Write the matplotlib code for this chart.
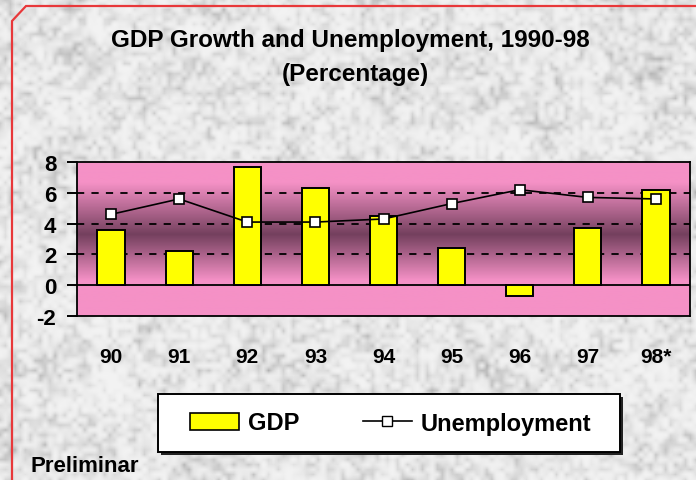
import matplotlib
matplotlib.use("Agg")
import matplotlib.pyplot as plt
import numpy as np
from matplotlib.colors import LinearSegmentedColormap
from matplotlib.patches import Polygon, Patch, Rectangle
from matplotlib.lines import Line2D

# datos
anios = ["90", "91", "92", "93", "94", "95", "96", "97", "98*"]
pib = [3.6, 2.2, 7.7, 6.3, 4.5, 2.4, -0.7, 3.7, 6.2]
desempleo = [4.6, 5.6, 4.1, 4.1, 4.3, 5.3, 6.2, 5.7, 5.6]

FUENTE = ["Liberation Sans", "DejaVu Sans"]
ROSA = "#f591c6"
MALVA = "#74405e"

plt.rcParams["axes.unicode_minus"] = False

fig = plt.figure(figsize=(6.96, 4.81), dpi=100)

# fondo tipo marmol
fondo = fig.add_axes([0, 0, 1, 1], zorder=-10)
rng = np.random.default_rng(7)
h, w = 481, 696
tex = np.zeros((h, w))
for escala, peso in [(5, 1.0), (14, 0.6), (40, 0.35)]:
    g = rng.random((h // escala + 2, w // escala + 2))
    yy = np.linspace(0, g.shape[0] - 1.001, h)
    xx = np.linspace(0, g.shape[1] - 1.001, w)
    y0 = yy.astype(int); x0 = xx.astype(int)
    fy = (yy - y0)[:, None]; fx = (xx - x0)[None, :]
    a = g[y0][:, x0]; b = g[y0][:, x0 + 1]
    c = g[y0 + 1][:, x0]; d = g[y0 + 1][:, x0 + 1]
    tex += peso * ((1 - fy) * ((1 - fx) * a + fx * b) + fy * ((1 - fx) * c + fx * d))
tex = (tex - tex.min()) / (tex.max() - tex.min())
tex = 0.95 - 0.25 * tex ** 2.5
fondo.imshow(tex, cmap="gray", vmin=0, vmax=1, aspect="auto",
             extent=[0, 1, 0, 1], interpolation="bilinear")
fondo.set_xlim(0, 1)
fondo.set_ylim(0, 1)
fondo.axis("off")

# marco rojo con la esquina cortada
px = lambda x, y: (x / 696, 1 - y / 481)
marco = Polygon([px(12, 520), px(12, 22), px(26, 7), px(720, 7), px(720, 520)],
                closed=False, fill=False, edgecolor="#e8383a", linewidth=1.6,
                transform=fig.transFigure)
fondo.add_patch(marco)

# caja de la leyenda con sombra
x0c, y0c = px(158, 453)
ancho, alto = (620 - 158) / 696, (453 - 395) / 481
fondo.add_patch(Rectangle((x0c + 3 / 696, y0c - 3 / 481), ancho, alto,
                          facecolor="#222222", edgecolor="none"))
fondo.add_patch(Rectangle((x0c, y0c), ancho, alto, facecolor="white",
                          edgecolor="black", linewidth=1.4))

# area del grafico
ax = fig.add_axes([77 / 696, 1 - 317 / 481, (690 - 77) / 696, (317 - 163) / 481])
x = np.arange(len(anios))

cmap = LinearSegmentedColormap.from_list(
    "rosa", [(0.0, ROSA), (0.2, ROSA), (0.23, ROSA), (0.53, MALVA),
             (0.87, ROSA), (1.0, ROSA)])
grad = np.linspace(0, 1, 300)[:, None]
ax.imshow(grad, cmap=cmap, aspect="auto", origin="lower",
          extent=[-0.5, len(anios) - 0.5, -2, 8], zorder=0)

for yv in [2, 4, 6]:
    ax.axhline(yv, color="black", linestyle=(0, (4, 4)), linewidth=1.3, zorder=1)
ax.axhline(0, color="black", linewidth=1.3, zorder=1)

ax.bar(x, pib, width=0.4, color="#ffff00", edgecolor="black", linewidth=1.4, zorder=2)
ax.plot(x, desempleo, color="black", linewidth=1.2, marker="s", markersize=7.5,
        markerfacecolor="white", markeredgecolor="black", markeredgewidth=1.2, zorder=3)

ax.set_xlim(-0.5, len(anios) - 0.5)
ax.set_ylim(-2, 8)
ax.set_yticks([-2, 0, 2, 4, 6, 8])
ax.set_xticks(x)
ax.set_xticklabels(anios)
ax.tick_params(axis="y", direction="out", length=7, width=1.4, pad=8)
ax.tick_params(axis="x", length=0, pad=22)
for lab in ax.get_xticklabels():
    lab.set_fontfamily(FUENTE)
    lab.set_fontweight("bold")
    lab.set_fontsize(15)
for lab in ax.get_yticklabels():
    lab.set_fontfamily(FUENTE)
    lab.set_fontweight("bold")
    lab.set_fontsize(16)
for s in ax.spines.values():
    s.set_linewidth(1.3)

# titulo
fig.text(0.504, 1 - 40 / 481, "GDP Growth and Unemployment, 1990-98", ha="center",
         va="center", fontsize=17.5, fontweight="bold", family=FUENTE)
fig.text(0.511, 1 - 74 / 481, "(Percentage)", ha="center", va="center",
         fontsize=17.5, fontweight="bold", family=FUENTE)

# leyenda (sin marco propio, va dentro de la caja)
manijas = [Patch(facecolor="#ffff00", edgecolor="black", linewidth=1.2),
           Line2D([0], [0], color="black", linewidth=1.2, marker="s", markersize=7,
                  markerfacecolor="white", markeredgecolor="black")]
ley = fig.legend(manijas, ["GDP", "Unemployment"], ncol=2, loc="center",
                 bbox_to_anchor=(391 / 696, 1 - 424 / 481), frameon=False,
                 borderpad=0, columnspacing=2.7, handlelength=2.05,
                 handletextpad=0.4, borderaxespad=0,
                 prop={"family": FUENTE, "weight": "bold", "size": 17})

fig.text(30 / 696, 1 - 466 / 481, "Preliminar", ha="left", va="center",
         fontsize=16, fontweight="bold", family=FUENTE)

fig.savefig("out.png", dpi=100)
